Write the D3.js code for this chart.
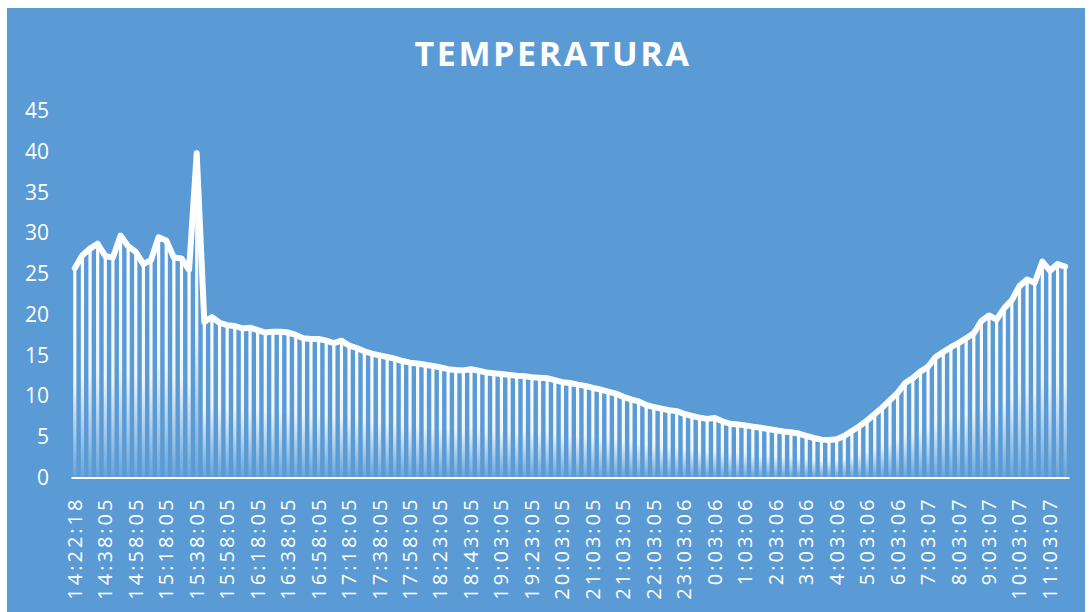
<!DOCTYPE html>
<meta charset="utf-8">
<style type="text/css">
  body {
    margin: 0;
    background: #fff;
    font-family: "Open Sans", sans-serif;
  }
  .title {
    font-family: "Open Sans", sans-serif;
    font-size: 34px;
    font-weight: 700;
    fill: #fff;
    letter-spacing: 2.6px;
  }
  .axis text {
    font-family: "Open Sans", sans-serif;
    fill: #fff;
  }
  .y.axis text {
    font-size: 21px;
  }
  .x.axis text {
    font-size: 20px;
    letter-spacing: 3px;
  }
  .axis line, .y.axis .domain {
    display: none;
  }
  .x.axis .domain {
    stroke: #fff;
    stroke-width: 2px;
  }
  .line {
    fill: none;
    stroke: #fff;
    stroke-width: 6px;
    stroke-linejoin: round;
    stroke-linecap: round;
  }
</style>
<body>
<div id="chart"></div>
<script src="https://d3js.org/d3.v7.min.js"></script>
<script>
// temperature readings, one every category
var temps = [
  25.7, 27.3, 28.1, 28.7, 27.2, 27.0, 29.7, 28.4, 27.7, 26.2,
  26.7, 29.5, 29.1, 27.0, 26.9, 25.5, 39.8, 19.1, 19.7, 19.0,
  18.7, 18.6, 18.3, 18.4, 18.1, 17.8, 17.9, 17.9, 17.8, 17.5,
  17.1, 17.0, 17.0, 16.8, 16.5, 16.8, 16.2, 15.9, 15.5, 15.2,
  15.0, 14.8, 14.6, 14.3, 14.1, 14.0, 13.85, 13.7, 13.5, 13.3,
  13.2, 13.15, 13.3, 13.1, 12.9, 12.8, 12.7, 12.6, 12.5, 12.45,
  12.3, 12.25, 12.2, 11.95, 11.7, 11.6, 11.4, 11.25, 11.0, 10.8,
  10.55, 10.3, 9.9, 9.6, 9.35, 8.9, 8.65, 8.45, 8.25, 8.15,
  7.8, 7.55, 7.35, 7.2, 7.3, 6.9, 6.6, 6.5, 6.4, 6.25,
  6.1, 5.95, 5.8, 5.65, 5.55, 5.4, 5.1, 4.85, 4.65, 4.6,
  4.7, 5.1, 5.7, 6.3, 7.0, 7.8, 8.6, 9.5, 10.4, 11.6,
  12.2, 13.0, 13.6, 14.8, 15.4, 16.0, 16.5, 17.1, 17.7, 19.2,
  19.9, 19.4, 20.8, 21.8, 23.5, 24.3, 23.9, 26.5, 25.4, 26.2,
  25.9
];

// labels shown on the x axis (every 4th category)
var timeLabels = [
  "14:22:18", "14:38:05", "14:58:05", "15:18:05", "15:38:05", "15:58:05",
  "16:18:05", "16:38:05", "16:58:05", "17:18:05", "17:38:05", "17:58:05",
  "18:23:05", "18:43:05", "19:03:05", "19:23:05", "20:03:05", "21:03:05",
  "21:03:05", "22:03:05", "23:03:06", "0:03:06", "1:03:06", "2:03:06",
  "3:03:06", "4:03:06", "5:03:06", "6:03:06", "7:03:07", "8:03:07",
  "9:03:07", "10:03:07", "11:03:07"
];
var labelEvery = 4;

var yTicks = [0, 5, 10, 15, 20, 25, 30, 35, 40, 45];

var width = 1091, height = 612;
var margin = {top: 111, right: 22, bottom: 134.5, left: 71};

var svg = d3.select("#chart").append("svg")
  .attr("width", width)
  .attr("height", height);

// chart background
svg.append("rect")
  .attr("x", 7)
  .attr("y", 8)
  .attr("width", 1078)
  .attr("height", height - 8)
  .attr("fill", "#5b9bd5");

svg.append("text")
  .attr("class", "title")
  .attr("x", 553)
  .attr("y", 66)
  .attr("text-anchor", "middle")
  .text("TEMPERATURA");

// gradient for the columns
var grad = svg.append("defs").append("linearGradient")
  .attr("id", "colfade")
  .attr("x1", 0).attr("y1", 0)
  .attr("x2", 0).attr("y2", 1);
grad.append("stop").attr("offset", "0%").attr("stop-color", "#fff").attr("stop-opacity", 1);
grad.append("stop").attr("offset", "55%").attr("stop-color", "#fff").attr("stop-opacity", 0.9);
grad.append("stop").attr("offset", "100%").attr("stop-color", "#fff").attr("stop-opacity", 0.08);

var idx = d3.range(temps.length);

var xScale = d3.scaleBand()
  .domain(idx)
  .range([margin.left, width - margin.right]);

var yScale = d3.scaleLinear()
  .domain([0, 45])
  .range([height - margin.bottom, margin.top]);

var yAxis = d3.axisLeft(yScale)
  .tickValues(yTicks)
  .tickSize(0)
  .tickPadding(22);

svg.append("g")
  .attr("class", "y axis")
  .attr("transform", "translate(" + margin.left + ",0)")
  .call(yAxis);

// columns
var colW = 3.2;
svg.selectAll("rect.col")
  .data(temps)
  .enter()
  .append("rect")
  .attr("class", "col")
  .attr("x", function(d, i) { return xScale(i) + xScale.bandwidth() / 2 - colW / 2; })
  .attr("y", function(d) { return yScale(d); })
  .attr("width", colW)
  .attr("height", function(d) { return yScale(0) - yScale(d); })
  .attr("fill", "url(#colfade)");

var xAxis = d3.axisBottom(xScale)
  .tickValues(idx.filter(function(i) { return i % labelEvery == 0; }))
  .tickFormat(function(i) { return timeLabels[i / labelEvery]; })
  .tickSize(0)
  .tickSizeOuter(0);

var xg = svg.append("g")
  .attr("class", "x axis")
  .attr("transform", "translate(0," + yScale(0) + ")")
  .call(xAxis);

xg.selectAll("text")
  .attr("text-anchor", "end")
  .attr("transform", "rotate(-90)")
  .attr("x", -19)
  .attr("y", 0)
  .attr("dy", "0.35em");

var line = d3.line()
  .x(function(d, i) { return xScale(i) + xScale.bandwidth() / 2; })
  .y(function(d) { return yScale(d); });

svg.append("path")
  .datum(temps)
  .attr("class", "line")
  .attr("d", line);
</script>
</body>
